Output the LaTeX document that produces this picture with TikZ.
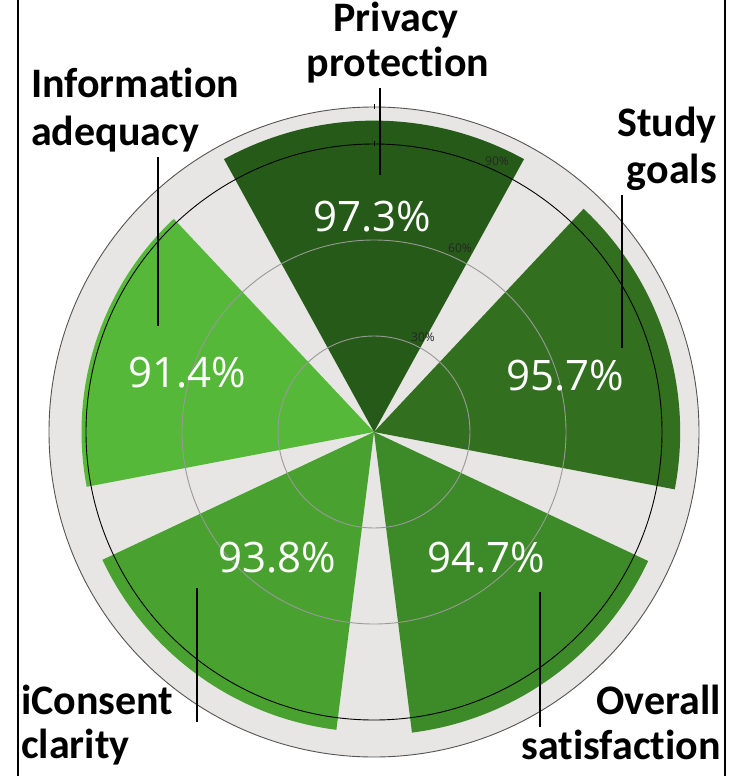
\documentclass[tikz,border=0pt]{standalone}
\usepackage{fontspec}
\setmainfont{Carlito}[Ligatures=NoCommon]
\newfontfamily\pctfont{Open Sans}
\definecolor{diskbg}{HTML}{E8E6E5}
\definecolor{cprivacy}{HTML}{265A18}
\definecolor{cstudy}{HTML}{327020}
\definecolor{coverall}{HTML}{3D8A28}
\definecolor{ciconsent}{HTML}{49A230}
\definecolor{cinfo}{HTML}{55B838}
\definecolor{gridgray}{HTML}{999999}
\definecolor{rimgray}{HTML}{555555}
\tikzset{
  catlabel/.style={font=\bfseries\fontsize{42}{46}\selectfont, inner sep=0pt, text=black},
  pctlabel/.style={font=\pctfont\fontsize{42}{46}\selectfont, inner sep=0pt, text=white},
  ticklabel/.style={font=\pctfont\fontsize{12}{13}\selectfont, inner sep=0pt, text=black!85},
  leader/.style={draw=black, line width=1.1pt},
  frameline/.style={draw=black, line width=2.4pt},
}
\begin{document}
\begin{tikzpicture}[x=1pt,y=-1pt]
\useasboundingbox (0,0) rectangle (754,776);
\fill[white] (0,0) rectangle (754,776);
\begin{scope}[shift={(374,432)}, y=1pt]
  \coordinate (ctr) at (0,0);
  \fill[diskbg] (ctr) circle[radius=325];
  % bars
  \fill[cprivacy] (ctr) -- (61.2:311.4) arc[start angle=61.2, end angle=118.8, radius=311.4] -- cycle;
  \fill[cstudy] (ctr) -- (-10.8:306.2) arc[start angle=-10.8, end angle=46.8, radius=306.2] -- cycle;
  \fill[coverall] (ctr) -- (-82.8:303) arc[start angle=-82.8, end angle=-25.2, radius=303] -- cycle;
  \fill[ciconsent] (ctr) -- (-154.8:300.2) arc[start angle=-154.8, end angle=-97.2, radius=300.2] -- cycle;
  \fill[cinfo] (ctr) -- (133.2:292.5) arc[start angle=133.2, end angle=190.8, radius=292.5] -- cycle;
  % grid
  \draw[gridgray, line width=0.9pt] (ctr) circle[radius=96];
  \draw[gridgray, line width=0.9pt] (ctr) circle[radius=192];
  \draw[black, line width=0.9pt] (ctr) circle[radius=288];
  \draw[rimgray, line width=0.9pt] (ctr) circle[radius=325];
  \draw[black, line width=0.6pt] (0,286) -- (0,291);
  \draw[black, line width=0.6pt] (0,323) -- (0,328);
\end{scope}
% tick labels
\node[ticklabel] (t90) at (497,161) {90\%};
\node[ticklabel] (t60) at (460,248) {60\%};
\node[ticklabel] (t30) at (423,337) {30\%};
% percentage labels
\node[pctlabel] (p1) at (372,217) {97.3\%};
\node[pctlabel] (p2) at (565,376) {95.7\%};
\node[pctlabel] (p3) at (486,558) {94.7\%};
\node[pctlabel] (p4) at (277,558) {93.8\%};
\node[pctlabel] (p5) at (187,373) {91.4\%};
% category labels
\node[catlabel, anchor=base] (l1a) at (396,32) {Privacy};
\node[catlabel, anchor=base] (l1b) at (398,77) {protection};
\node[catlabel, anchor=base west] (l5a) at (31,97) {Information};
\node[catlabel, anchor=base west] (l5b) at (31,145) {adequacy};
\node[catlabel, anchor=base east] (l2a) at (717,136) {Study};
\node[catlabel, anchor=base east] (l2b) at (717,183) {goals};
\node[catlabel, anchor=base west] (l4a) at (21,714) {iConsent};
\node[catlabel, anchor=base west] (l4b) at (21,758) {clarity};
\node[catlabel, anchor=base east] (l3a) at (721,714) {Overall};
\node[catlabel, anchor=base east] (l3b) at (721,759) {satisfaction};
% leader lines
\coordinate (a1) at (380,88);  \coordinate (b1) at (380,175);
\coordinate (a5) at (158,157); \coordinate (b5) at (158,326);
\coordinate (a2) at (622,195); \coordinate (b2) at (622,348);
\coordinate (a4) at (197,588); \coordinate (b4) at (197,722);
\coordinate (a3) at (540,592); \coordinate (b3) at (540,727);
\draw[leader] (a1) -- (b1);
\draw[leader] (a5) -- (b5);
\draw[leader] (a2) -- (b2);
\draw[leader] (a4) -- (b4);
\draw[leader] (a3) -- (b3);
% frame
\coordinate (fl1) at (18,0); \coordinate (fl2) at (18,776);
\coordinate (fr1) at (725,0); \coordinate (fr2) at (725,776);
\draw[frameline] (fl1) -- (fl2);
\draw[frameline] (fr1) -- (fr2);
\end{tikzpicture}
\end{document}
